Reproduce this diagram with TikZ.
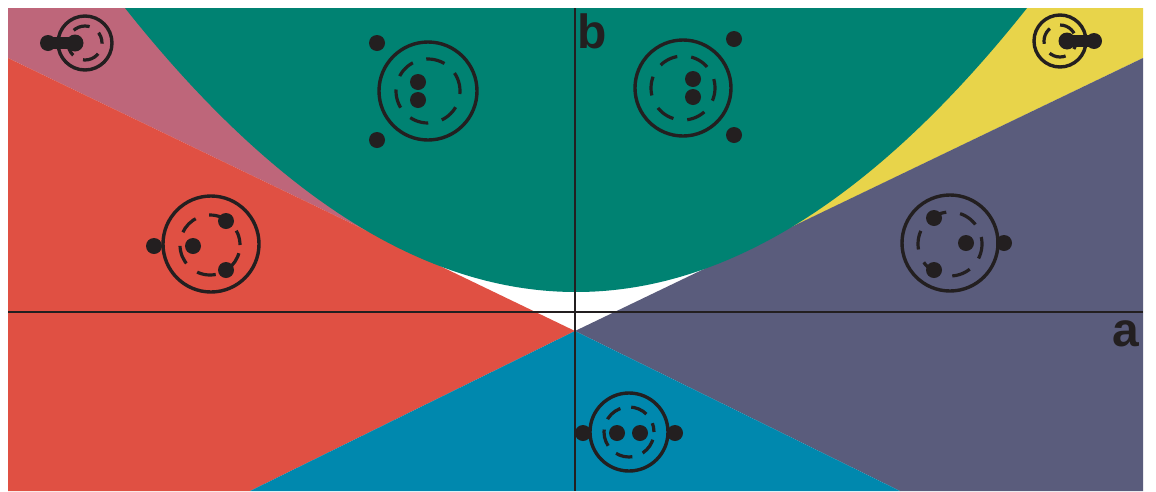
\documentclass[tikz,border=0pt]{standalone}
\usepackage{fontspec}
\setmainfont{Liberation Sans}
\definecolor{regGreen}{RGB}{0,130,114}
\definecolor{regPink}{RGB}{190,102,122}
\definecolor{regRed}{RGB}{224,80,67}
\definecolor{regYellow}{RGB}{232,212,74}
\definecolor{regSlate}{RGB}{90,92,124}
\definecolor{regBlue}{RGB}{0,136,174}
\definecolor{ink}{RGB}{35,31,32}
\begin{document}
\begin{tikzpicture}[x=1pt,y=-1pt,
  ring/.style={draw=ink, line width=3.4pt},
  orbit/.style={draw=ink, line width=3.2pt, dash pattern=on 19pt off 14pt},
  smallorbit/.style={draw=ink, line width=3.2pt, dash pattern=on 17pt off 11pt},
  electron/.style={fill=ink},
  pill/.style={draw=ink, line width=12pt, line cap=round},
  axisline/.style={draw=ink, line width=2.6pt},
  axislabel/.style={font=\bfseries\fontsize{48}{48}\selectfont, text=ink, anchor=base west, inner sep=0pt}]
\useasboundingbox (0,0) rectangle (1156,491);
\fill[white] (0,0) rectangle (1156,491);

% corner regions above the oblique lines
\fill[regPink] (8,8) -- (8,58) -- (405,249.2) -- (405,8) -- cycle;
\fill[regYellow] (1143,8) -- (1143,58) -- (747,248.7) -- (747,8) -- cycle;

% wedges meeting below the origin
\coordinate (V) at (575,331);
\fill[regRed] (8,58) -- (V) -- (250,491) -- (8,491) -- cycle;
\fill[regSlate] (1143,58) -- (V) -- (900,491) -- (1143,491) -- cycle;
\fill[regBlue] (V) -- (250,491) -- (900,491) -- cycle;

% region inside the parabola
\begin{scope}
  \clip (8,8) rectangle (1143,491);
  \fill[regGreen] plot[domain=96:1056, samples=80, smooth]
     (\x, {292-0.1396*((\x-576)/10)^2}) -- cycle;
\end{scope}

% axes
\coordinate (xl) at (8,312);
\coordinate (xr) at (1143,312);
\coordinate (yt) at (575,8);
\coordinate (yb) at (575,491);
\draw[axisline] (xl) -- (xr);
\draw[axisline] (yt) -- (yb);
\node[axislabel] (blabel) at (577,48) {b};
\node[axislabel] (alabel) at (1112,346) {a};

% top-left atom
\draw[ring] (85,43) circle[radius=27pt];
\draw[smallorbit, dash phase=6pt] (85,43) circle[radius=17pt];
\draw[pill] (48,43) -- (75,43);
\fill[electron] (48,43) circle[radius=8pt];
\fill[electron] (75,43) circle[radius=8.5pt];

% top-right atom
\draw[ring] (1060,41) circle[radius=26pt];
\draw[smallorbit, dash phase=20pt] (1060,41) circle[radius=16pt];
\draw[pill] (1067,41) -- (1094,41);
\fill[electron] (1067,41) circle[radius=8.5pt];
\fill[electron] (1094,41) circle[radius=8pt];

% upper atoms inside the parabola
\draw[ring] (428,91) circle[radius=49pt];
\draw[orbit] (428,91) circle[radius=32pt];
\fill[electron] (418,82) circle[radius=8pt];
\fill[electron] (418,100) circle[radius=8pt];
\fill[electron] (377,43) circle[radius=8pt];
\fill[electron] (377,140) circle[radius=8pt];

\draw[ring] (683,88) circle[radius=48pt];
\draw[orbit, dash phase=10pt] (683,88) circle[radius=32pt];
\fill[electron] (693,79) circle[radius=8pt];
\fill[electron] (693,97) circle[radius=8pt];
\fill[electron] (734,39) circle[radius=8pt];
\fill[electron] (734,135) circle[radius=8pt];

% left atom
\draw[ring] (211,244) circle[radius=48pt];
\draw[orbit, dash phase=4pt] (210,245) circle[radius=30pt];
\fill[electron] (193,246) circle[radius=8pt];
\fill[electron] (226,221) circle[radius=8pt];
\fill[electron] (226,270) circle[radius=8pt];
\fill[electron] (154,246) circle[radius=8pt];

% right atom
\draw[ring] (950,243) circle[radius=48pt];
\draw[orbit, dash phase=12pt] (950,244) circle[radius=32pt];
\fill[electron] (934,218) circle[radius=8pt];
\fill[electron] (966,243) circle[radius=8pt];
\fill[electron] (934,270) circle[radius=8pt];
\fill[electron] (1004,243) circle[radius=8pt];

% bottom atom
\draw[ring] (629,432) circle[radius=39pt];
\draw[smallorbit, dash phase=8pt] (629,432) circle[radius=25pt];
\fill[electron] (617,433) circle[radius=8pt];
\fill[electron] (640,433) circle[radius=8pt];
\fill[electron] (583,433) circle[radius=8pt];
\fill[electron] (675,433) circle[radius=8pt];
\end{tikzpicture}
\end{document}
